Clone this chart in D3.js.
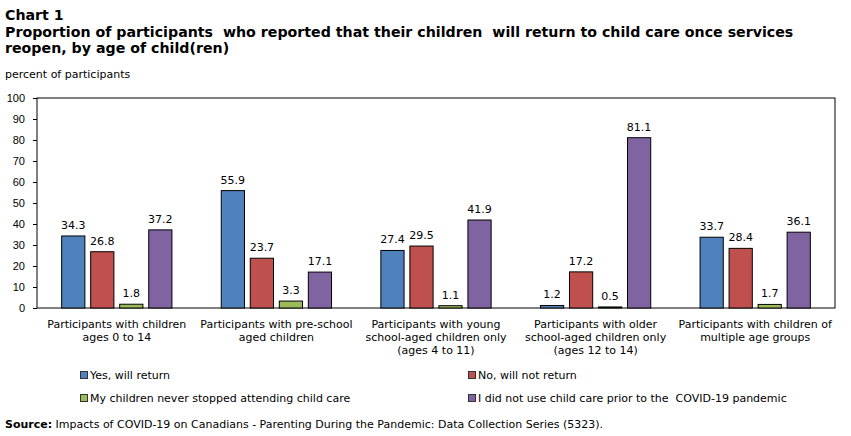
<!DOCTYPE html>
<html>
<head>
<meta charset="utf-8" />
<script src="https://cdn.jsdelivr.net/npm/d3@7"></script>
<style>
    body { margin: 0; background: #fff; }
    svg { display: block; font-family: "DejaVu Sans", Verdana, sans-serif; }
    .title { font-size: 14.2px; font-weight: bold; fill: #000; }
    .axis text { font-size: 11px; fill: #000; }
    .label { font-size: 11px; fill: #000; }
</style>
</head>
<body>
<svg id="chart"></svg>
<script>
    var categories = [
        ['Participants with children', 'ages 0 to 14'],
        ['Participants with pre-school', 'aged children'],
        ['Participants with young', 'school-aged children only', '(ages 4 to 11)'],
        ['Participants with older', 'school-aged children only', '(ages 12 to 14)'],
        ['Participants with children of', 'multiple age groups']
    ];
    var seriesNames = ['Yes, will return', 'No, will not return', 'My children never stopped attending child care', 'I did not use child care prior to the  COVID-19 pandemic'];
    var yesReturn = [34.3, 55.9, 27.4, 1.2, 33.7];
    var noReturn = [26.8, 23.7, 29.5, 17.2, 28.4];
    var neverStopped = [1.8, 3.3, 1.1, 0.5, 1.7];
    var didNotUse = [37.2, 17.1, 41.9, 81.1, 36.1];
    var yTicks = [0, 10, 20, 30, 40, 50, 60, 70, 80, 90, 100];
    var colors = ['#4F81BD', '#C0504D', '#9BBB59', '#8064A2'];

    var series = [yesReturn, noReturn, neverStopped, didNotUse];

    var width = 851, height = 436,
        plot = {left: 37, top: 98, right: 835, bottom: 308};

    var svg = d3.select('#chart').attr('width', width).attr('height', height);

    // titles
    var titles = ['Chart 1', 'Proportion of participants  who reported that their children  will return to child care once services', 'reopen, by age of child(ren)'];
    svg.selectAll('.title').data(titles).enter().append('text')
        .attr('class', 'title').attr('x', 5).attr('y', function(d, i) { return 20 + i * 16.5; })
        .style('white-space', 'pre').text(function(d) { return d; });

    svg.append('text').attr('x', 5).attr('y', 78).style('font-size', '11px').text('percent of participants');

    var x0 = d3.scaleBand().domain(d3.range(categories.length)).range([plot.left, plot.right]);
    var x1 = d3.scaleBand().domain(d3.range(series.length)).range([0, x0.bandwidth()]).paddingInner(0.2).paddingOuter(0.85);
    var y = d3.scaleLinear().domain([0, 100]).range([plot.bottom, plot.top]);

    var yAxis = d3.axisLeft(y).tickValues(yTicks).tickSize(4).tickPadding(8);
    var gy = svg.append('g').attr('class', 'axis').attr('transform', 'translate(' + plot.left + ',0)').call(yAxis);
    gy.select('.domain').remove();
    gy.selectAll('line').attr('stroke', '#000');

    svg.append('rect').attr('x', plot.left).attr('y', plot.top)
        .attr('width', plot.right - plot.left).attr('height', plot.bottom - plot.top)
        .attr('fill', 'none').attr('stroke', '#000');

    var groups = svg.selectAll('.group').data(categories).enter().append('g')
        .attr('transform', function(d, i) { return 'translate(' + x0(i) + ',0)'; });

    groups.each(function(c, ci) {
        var g = d3.select(this);
        series.forEach(function(s, si) {
            g.append('rect')
                .attr('x', x1(si)).attr('y', y(s[ci]))
                .attr('width', x1.bandwidth()).attr('height', y(0) - y(s[ci]))
                .attr('fill', colors[si]).attr('stroke', '#000').attr('stroke-width', 1);
            g.append('text').attr('class', 'label')
                .attr('x', x1(si) + x1.bandwidth() / 2).attr('y', y(s[ci]) - 7)
                .attr('text-anchor', 'middle').text(s[ci].toFixed(1));
        });
        var t = g.append('text').attr('class', 'label').attr('text-anchor', 'middle');
        c.forEach(function(line, li) {
            t.append('tspan').attr('x', x0.bandwidth() / 2).attr('y', 328 + li * 13).text(line);
        });
    });

    // legend
    var legendPos = [[80, 375], [468, 375], [80, 398], [468, 398]];
    var legend = svg.selectAll('.legend').data(seriesNames).enter().append('g')
        .attr('transform', function(d, i) { return 'translate(' + legendPos[i][0] + ',' + legendPos[i][1] + ')'; });
    legend.append('rect').attr('x', 0.5).attr('y', -3.5).attr('width', 7).attr('height', 7)
        .attr('fill', function(d, i) { return colors[i]; }).attr('stroke', '#333');
    legend.append('text').attr('class', 'label').attr('x', 10).attr('y', 4)
        .style('white-space', 'pre').text(function(d) { return d; });

    var src = svg.append('text').attr('class', 'label').attr('x', 5).attr('y', 428);
    src.append('tspan').style('font-weight', 'bold').text('Source:');
    src.append('tspan').text(' Impacts of COVID-19 on Canadians - Parenting During the Pandemic: Data Collection Series (5323).');
</script>
</body>
</html>
